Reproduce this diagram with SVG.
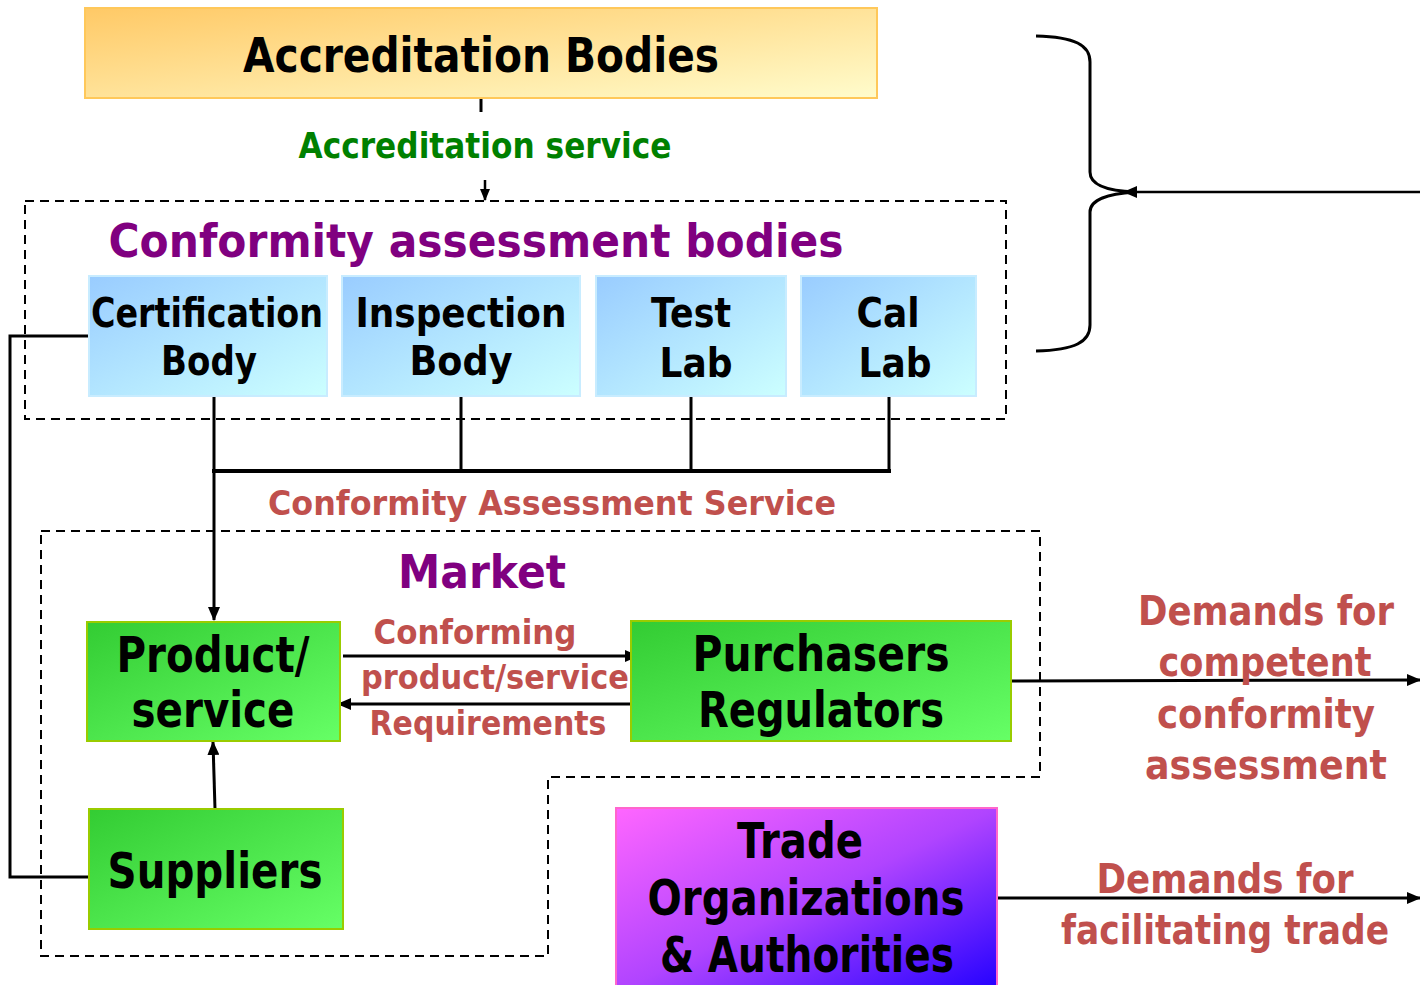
<svg xmlns="http://www.w3.org/2000/svg" width="1420" height="985" viewBox="0 0 1420 985">
<defs>
<linearGradient id="gOrange" x1="0" y1="0" x2="1" y2="1"><stop offset="0" stop-color="#FFC966"/><stop offset="1" stop-color="#FFFCCC"/></linearGradient>
<linearGradient id="gBlue" x1="0" y1="0" x2="1" y2="1"><stop offset="0" stop-color="#99CCFF"/><stop offset="1" stop-color="#CCFFFF"/></linearGradient>
<linearGradient id="gGreen" x1="0" y1="0" x2="1" y2="1"><stop offset="0" stop-color="#33CC33"/><stop offset="1" stop-color="#66FF66"/></linearGradient>
<linearGradient id="gMag" x1="0" y1="0" x2="1" y2="1"><stop offset="0" stop-color="#FF66FF"/><stop offset="0.5" stop-color="#B044FF"/><stop offset="1" stop-color="#2200FF"/></linearGradient>
<marker id="ah" viewBox="0 0 14 12" refX="13" refY="6" markerWidth="14" markerHeight="12" markerUnits="userSpaceOnUse" orient="auto"><path d="M0,0 L14,6 L0,12 Z" fill="#000"/></marker>
<marker id="ahs" viewBox="0 0 12 10" refX="11" refY="5" markerWidth="12" markerHeight="10" markerUnits="userSpaceOnUse" orient="auto"><path d="M0,0 L12,5 L0,10 Z" fill="#000"/></marker>
</defs>
<style>
text{font-family:"DejaVu Sans","Liberation Sans",sans-serif;font-weight:bold;text-anchor:middle}
.blk{fill:#000}
.grn{fill:#008000}
.pur{fill:#800080}
.red{fill:#C0504D}
.dash{fill:none;stroke:#000;stroke-width:2;stroke-dasharray:9,6}
.ln{fill:none;stroke:#000;stroke-width:3}
.lnt{fill:none;stroke:#000;stroke-width:2.5}
</style>
<rect width="1420" height="985" fill="#fff"/>

<g id="cab-container">
<rect class="dash" x="25" y="201" width="981" height="218"/>
<text class="pur" x="476" y="257" font-size="46" textLength="735" lengthAdjust="spacingAndGlyphs">Conformity assessment bodies</text>
</g>

<g id="market-container">
<path class="dash" d="M41,531 H1040 V777 H548 V956 H41 Z"/>
<text class="pur" x="482" y="588" font-size="46" textLength="168" lengthAdjust="spacingAndGlyphs">Market</text>
</g>

<g id="connectors">
<line class="ln" x1="481" y1="98" x2="481" y2="112"/>
<line class="lnt" x1="485" y1="180" x2="485" y2="200" marker-end="url(#ahs)"/>
<line class="ln" x1="214" y1="396" x2="214" y2="620" marker-end="url(#ah)"/>
<line class="ln" x1="461" y1="396" x2="461" y2="471"/>
<line class="ln" x1="691" y1="396" x2="691" y2="471"/>
<line class="ln" x1="889" y1="396" x2="889" y2="471"/>
<line x1="212" y1="471" x2="891" y2="471" stroke="#000" stroke-width="4"/>
<path class="ln" d="M89,336 H10 V877 H89"/>
<line class="ln" x1="215" y1="809" x2="213" y2="742" marker-end="url(#ah)"/>
<line class="ln" x1="343" y1="656" x2="638" y2="656" marker-end="url(#ah)"/>
<line class="ln" x1="633" y1="704" x2="338" y2="704" marker-end="url(#ah)"/>
<line class="ln" x1="1011" y1="681" x2="1420" y2="680" marker-end="url(#ah)"/>
<line class="ln" x1="997" y1="898" x2="1420" y2="898" marker-end="url(#ah)"/>
<path d="M1036,36 C1075,37 1090,45 1090,62 L1090,172 C1090,185 1108,191 1135,192 C1108,194 1090,199 1090,212 L1090,325 C1090,342 1075,350 1036,351" fill="none" stroke="#000" stroke-width="3"/>
<line class="lnt" x1="1420" y1="192" x2="1124" y2="192" marker-end="url(#ah)"/>
<text class="grn" x="485" y="158" font-size="36" textLength="373" lengthAdjust="spacingAndGlyphs">Accreditation service</text>
<text class="red" x="552" y="515" font-size="34" textLength="568" lengthAdjust="spacingAndGlyphs">Conformity Assessment Service</text>
<text class="red" x="475" y="644" font-size="33" textLength="203" lengthAdjust="spacingAndGlyphs">Conforming</text>
<text class="red" x="495" y="689" font-size="33" textLength="268" lengthAdjust="spacingAndGlyphs">product/service</text>
<text class="red" x="488" y="735" font-size="33" textLength="237" lengthAdjust="spacingAndGlyphs">Requirements</text>
<text class="red" x="1266" y="625" font-size="40" textLength="256" lengthAdjust="spacingAndGlyphs">Demands for</text>
<text class="red" x="1265" y="676" font-size="40" textLength="213" lengthAdjust="spacingAndGlyphs">competent</text>
<text class="red" x="1266" y="728" font-size="40" textLength="218" lengthAdjust="spacingAndGlyphs">conformity</text>
<text class="red" x="1266" y="779" font-size="40" textLength="242" lengthAdjust="spacingAndGlyphs">assessment</text>
<text class="red" x="1225" y="893" font-size="40" textLength="257" lengthAdjust="spacingAndGlyphs">Demands for</text>
<text class="red" x="1225" y="944" font-size="40" textLength="328" lengthAdjust="spacingAndGlyphs">facilitating trade</text>
</g>

<g id="accreditation-bodies">
<rect x="85" y="8" width="792" height="90" fill="url(#gOrange)" stroke="#FFC85A" stroke-width="2"/>
<text class="blk" x="481" y="72" font-size="48" textLength="476" lengthAdjust="spacingAndGlyphs">Accreditation Bodies</text>
</g>

<g id="certification-body">
<rect x="89" y="276" width="238" height="120" fill="url(#gBlue)" stroke="#C8ECFF" stroke-width="2"/>
<text class="blk" x="207" y="327" font-size="40" textLength="232" lengthAdjust="spacingAndGlyphs">Certification</text>
<text class="blk" x="209" y="375" font-size="40" textLength="96" lengthAdjust="spacingAndGlyphs">Body</text>
</g>
<g id="inspection-body">
<rect x="342" y="276" width="238" height="120" fill="url(#gBlue)" stroke="#C8ECFF" stroke-width="2"/>
<text class="blk" x="461" y="327" font-size="40" textLength="211" lengthAdjust="spacingAndGlyphs">Inspection</text>
<text class="blk" x="461" y="375" font-size="40" textLength="103" lengthAdjust="spacingAndGlyphs">Body</text>
</g>
<g id="test-lab">
<rect x="596" y="276" width="190" height="120" fill="url(#gBlue)" stroke="#C8ECFF" stroke-width="2"/>
<text class="blk" x="691" y="327" font-size="40" textLength="80" lengthAdjust="spacingAndGlyphs">Test</text>
<text class="blk" x="696" y="377" font-size="40" textLength="73" lengthAdjust="spacingAndGlyphs">Lab</text>
</g>
<g id="cal-lab">
<rect x="801" y="276" width="175" height="120" fill="url(#gBlue)" stroke="#C8ECFF" stroke-width="2"/>
<text class="blk" x="888" y="327" font-size="40" textLength="63" lengthAdjust="spacingAndGlyphs">Cal</text>
<text class="blk" x="895" y="377" font-size="40" textLength="73" lengthAdjust="spacingAndGlyphs">Lab</text>
</g>

<g id="product-service">
<rect x="87" y="622" width="253" height="119" fill="url(#gGreen)" stroke="#99CC00" stroke-width="2"/>
<text class="blk" x="213" y="672" font-size="50" textLength="193" lengthAdjust="spacingAndGlyphs">Product/</text>
<text class="blk" x="213" y="727" font-size="50" textLength="163" lengthAdjust="spacingAndGlyphs">service</text>
</g>
<g id="purchasers-regulators">
<rect x="631" y="621" width="380" height="120" fill="url(#gGreen)" stroke="#99CC00" stroke-width="2"/>
<text class="blk" x="821" y="671" font-size="50" textLength="257" lengthAdjust="spacingAndGlyphs">Purchasers</text>
<text class="blk" x="821" y="727" font-size="50" textLength="246" lengthAdjust="spacingAndGlyphs">Regulators</text>
</g>
<g id="suppliers">
<rect x="89" y="809" width="254" height="120" fill="url(#gGreen)" stroke="#99CC00" stroke-width="2"/>
<text class="blk" x="215" y="888" font-size="50" textLength="215" lengthAdjust="spacingAndGlyphs">Suppliers</text>
</g>
<g id="trade-organizations">
<rect x="616" y="808" width="381" height="185" fill="url(#gMag)" stroke="#FF66CC" stroke-width="2"/>
<text class="blk" x="800" y="858" font-size="50" textLength="126" lengthAdjust="spacingAndGlyphs">Trade</text>
<text class="blk" x="806" y="915" font-size="50" textLength="317" lengthAdjust="spacingAndGlyphs">Organizations</text>
<text class="blk" x="807" y="972" font-size="50" textLength="294" lengthAdjust="spacingAndGlyphs">&amp; Authorities</text>
</g>
</svg>
